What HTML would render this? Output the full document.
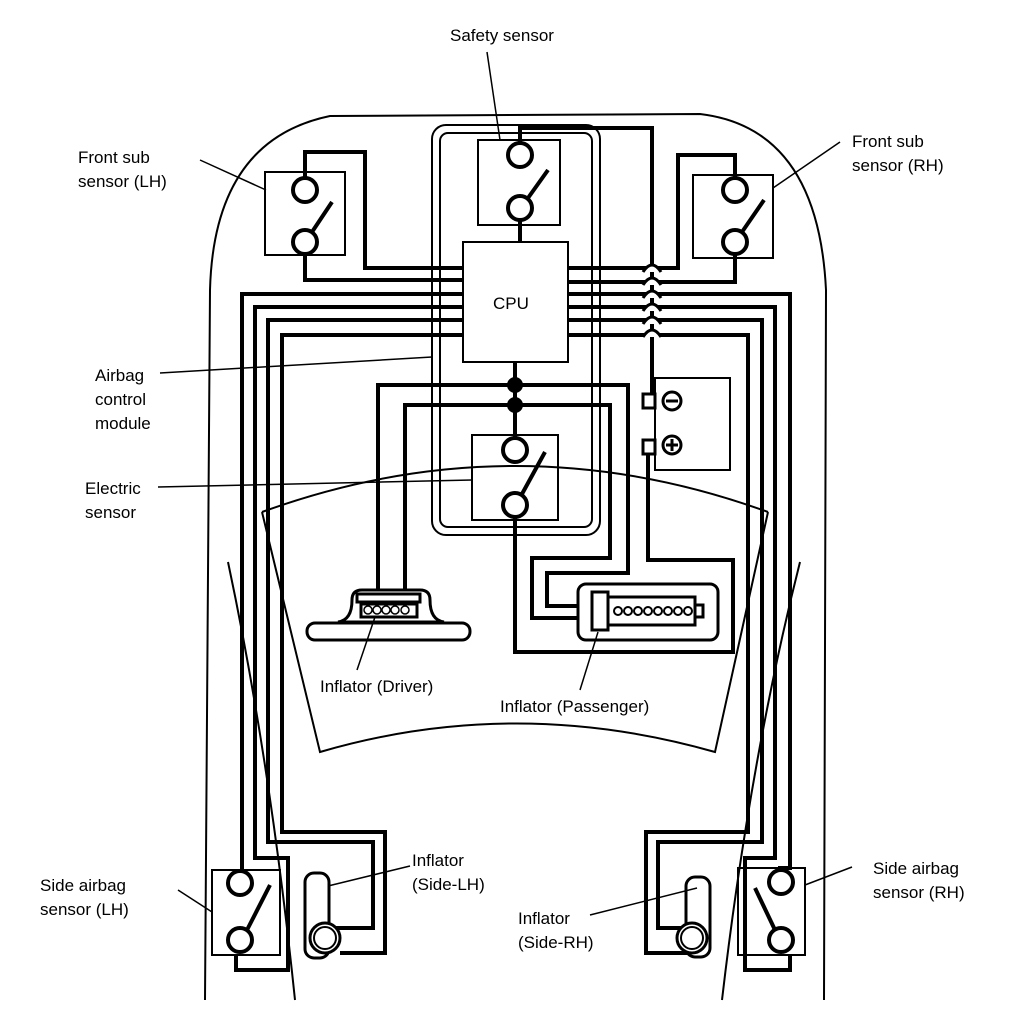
<!DOCTYPE html>
<html><head><style>
html,body{margin:0;padding:0;background:#fff;}
svg{display:block}
text{font-family:"Liberation Sans",Arial,sans-serif;font-size:17px;fill:#000}
</style></head><body>
<svg width="1024" height="1030" viewBox="0 0 1024 1030" xmlns="http://www.w3.org/2000/svg">
<g fill="none" stroke="#000">
<path d="M205,1000 L210,290 Q214,140 330,116 L700,114 Q818,128 826,290 L824,1000" stroke-width="2"/>
<path d="M262,512 Q515,420 768,512" stroke-width="2"/>
<path d="M262,512 L320,752 Q515,695 715,752 L768,512" stroke-width="2"/>
<path d="M228,562 Q270,760 295,1000" stroke-width="2"/>
<path d="M800,562 Q750,760 722,1000" stroke-width="2"/>
<rect x="432" y="125" width="168" height="410" rx="14" stroke-width="2"/>
<rect x="440" y="133" width="152" height="394" rx="8" stroke-width="2"/>
<rect x="478" y="140" width="82" height="85" stroke-width="2"/>
<rect x="265" y="172" width="80" height="83" stroke-width="2"/>
<rect x="693" y="175" width="80" height="83" stroke-width="2"/>
<rect x="463" y="242" width="105" height="120" stroke-width="2" fill="#fff"/>
<rect x="472" y="435" width="86" height="85" stroke-width="2"/>
<rect x="655" y="378" width="75" height="92" stroke-width="2"/>
<rect x="212" y="870" width="68" height="85" stroke-width="2"/>
<rect x="738" y="868" width="67" height="87" stroke-width="2"/>
</g>
<g fill="none" stroke="#000" stroke-width="4">
<path d="M520,142 V128 H652 V400"/>
<path d="M520,221 V242"/>
<path d="M305,177 V152 H365 V268 H463"/>
<path d="M305,255 V280 H463"/>
<path d="M735,177 V155 H678 V268 H568"/>
<path d="M735,255 V282 H568"/>
<path d="M463,294 H242 V870"/>
<path d="M463,307 H255 V858 H288 V970 H236 V955"/>
<path d="M463,320 H268 V842 H373 V928 H327"/>
<path d="M463,335 H282 V832 H385 V953 H340"/>
<path d="M568,294 H790 V868 H778"/>
<path d="M568,307 H775 V858 H745 V970 H790 V955"/>
<path d="M568,320 H762 V842 H658 V928 H695"/>
<path d="M568,335 H748 V832 H646 V953 H688"/>
<path d="M515,362 V437"/>
<path d="M515,385 H378 V592"/>
<path d="M515,405 H405 V592"/>
<path d="M515,385 H628 V573 H547 V606 H592"/>
<path d="M515,405 H610 V558 H532 V618 H592"/>
<path d="M515,518 V652 H733 V560 H648 V450"/>
</g>
<circle cx="515" cy="385" r="8" fill="#000"/>
<circle cx="515" cy="405" r="8" fill="#000"/>
<g fill="#fff" stroke="#000" stroke-width="3">
<path d="M643,272 Q652,258 661,272"/>
<path d="M643,285 Q652,271 661,285"/>
<path d="M643,298 Q652,284 661,298"/>
<path d="M643,311 Q652,297 661,311"/>
<path d="M643,324 Q652,310 661,324"/>
<path d="M643,337 Q652,323 661,337"/>
</g>
<g fill="#fff" stroke="#000" stroke-width="4">
<circle cx="520" cy="155" r="12"/><circle cx="520" cy="208" r="12"/>
<line x1="528" y1="198" x2="548" y2="170"/>
<circle cx="305" cy="190" r="12"/><circle cx="305" cy="242" r="12"/>
<line x1="312" y1="232" x2="332" y2="202"/>
<circle cx="735" cy="190" r="12"/><circle cx="735" cy="242" r="12"/>
<line x1="742" y1="232" x2="764" y2="200"/>
<circle cx="515" cy="450" r="12"/><circle cx="515" cy="505" r="12"/>
<line x1="522" y1="494" x2="545" y2="452"/>
<circle cx="240" cy="883" r="12"/><circle cx="240" cy="940" r="12"/>
<line x1="247" y1="930" x2="270" y2="885"/>
<circle cx="781" cy="882" r="12"/><circle cx="781" cy="940" r="12"/>
<line x1="775" y1="930" x2="755" y2="888"/>
</g>
<g stroke="#000" stroke-width="3" fill="#fff">
<rect x="643" y="394" width="12" height="14"/>
<rect x="643" y="440" width="12" height="14"/>
<circle cx="672" cy="401" r="9"/><circle cx="672" cy="445" r="9"/>
<line x1="666" y1="401" x2="678" y2="401"/>
<line x1="666" y1="445" x2="678" y2="445"/><line x1="672" y1="439" x2="672" y2="451"/>
</g>
<g fill="#fff" stroke="#000" stroke-width="3">
<rect x="305" y="873" width="24" height="85" rx="9"/>
<circle cx="325" cy="938" r="15"/><circle cx="325" cy="938" r="11" fill="none" stroke-width="2"/>
<rect x="686" y="877" width="24" height="80" rx="9"/>
<circle cx="692" cy="938" r="15"/><circle cx="692" cy="938" r="11" fill="none" stroke-width="2"/>
</g>
<g fill="#fff" stroke="#000" stroke-width="3">
<path d="M338,622 Q352,620 352,600 Q352,590 362,590 H420 Q430,590 430,600 Q430,620 444,622 Z"/>
<rect x="307" y="623" width="163" height="17" rx="8"/>
<rect x="357" y="594" width="63" height="8"/>
<rect x="361" y="604" width="56" height="13"/>
</g>
<g fill="#fff" stroke="#000" stroke-width="1.5">
<circle cx="368" cy="610" r="4"/><circle cx="377" cy="610" r="4"/><circle cx="386" cy="610" r="4"/><circle cx="395" cy="610" r="4"/><circle cx="405" cy="610" r="4"/>
</g>
<g fill="#fff" stroke="#000" stroke-width="3">
<rect x="578" y="584" width="140" height="56" rx="8"/>
<rect x="605" y="597" width="90" height="28"/>
<rect x="695" y="605" width="8" height="12"/>
<rect x="592" y="592" width="16" height="38"/>
</g>
<g fill="#fff" stroke="#000" stroke-width="2">
<circle cx="618" cy="611" r="4"/><circle cx="628" cy="611" r="4"/><circle cx="638" cy="611" r="4"/><circle cx="648" cy="611" r="4"/><circle cx="658" cy="611" r="4"/><circle cx="668" cy="611" r="4"/><circle cx="678" cy="611" r="4"/><circle cx="688" cy="611" r="4"/>
</g>
<g stroke="#000" stroke-width="1.5" fill="none">
<line x1="487" y1="52" x2="500" y2="140"/>
<line x1="200" y1="160" x2="266" y2="190"/>
<line x1="840" y1="142" x2="773" y2="188"/>
<line x1="160" y1="373" x2="432" y2="357"/>
<line x1="158" y1="487" x2="472" y2="480"/>
<line x1="375" y1="617" x2="357" y2="670"/>
<line x1="598" y1="632" x2="580" y2="690"/>
<line x1="410" y1="866" x2="328" y2="886"/>
<line x1="178" y1="890" x2="212" y2="912"/>
<line x1="590" y1="915" x2="697" y2="888"/>
<line x1="852" y1="867" x2="805" y2="885"/>
</g>
<text x="450" y="41">Safety sensor</text>
<text x="78" y="163">Front sub</text><text x="78" y="187">sensor (LH)</text>
<text x="852" y="147">Front sub</text><text x="852" y="171">sensor (RH)</text>
<text x="493" y="309" font-size="18">CPU</text>
<text x="95" y="381">Airbag</text><text x="95" y="405">control</text><text x="95" y="429">module</text>
<text x="85" y="494">Electric</text><text x="85" y="518">sensor</text>
<text x="320" y="692">Inflator (Driver)</text>
<text x="500" y="712">Inflator (Passenger)</text>
<text x="412" y="866">Inflator</text><text x="412" y="890">(Side-LH)</text>
<text x="40" y="891">Side airbag</text><text x="40" y="915">sensor (LH)</text>
<text x="518" y="924">Inflator</text><text x="518" y="948">(Side-RH)</text>
<text x="873" y="874">Side airbag</text><text x="873" y="898">sensor (RH)</text>
</svg>
</body></html>
